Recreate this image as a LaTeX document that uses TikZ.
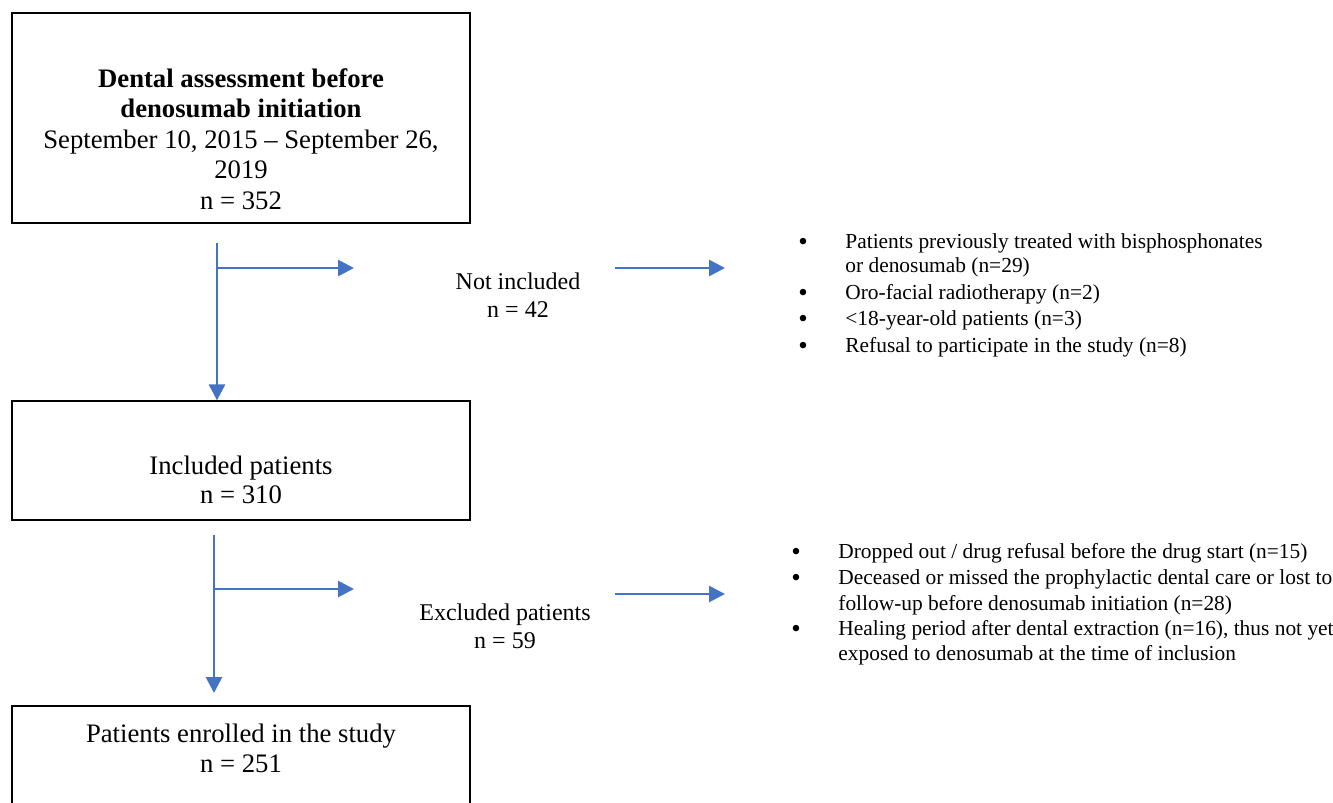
\documentclass[tikz,border=0pt]{standalone}
\usepackage{fontspec}
\setmainfont{Liberation Serif}
\usetikzlibrary{arrows.meta}
\definecolor{flowblue}{HTML}{4472C4}
\tikzset{
  box/.style={draw=black, line width=0.6pt, inner sep=0pt},
  boxtxt/.style={align=center, font=\fontsize{13.35}{14.75}\selectfont, inner sep=0pt},
  midtxt/.style={align=center, font=\fontsize{12}{14}\selectfont, inner sep=0pt},
  flow/.style={draw=flowblue, line width=1.4pt, -{Triangle[length=8pt,width=8pt]}},
  item/.style={anchor=base west, inner sep=0pt, font=\fontsize{10.7}{13}\selectfont},
}
\newcommand{\bul}{\makebox[23.5pt][l]{\raisebox{-1.1pt}{\fontsize{13.5}{13}\selectfont\textbullet}}}
\begin{document}
\begin{tikzpicture}[x=0.5pt,y=-0.5pt]
\useasboundingbox (0,0) rectangle (1333,803);
\clip (0,0) rectangle (1333,803);

% boxes
\node[box, minimum width=229pt, minimum height=105pt] (b1) at (241,118) {};
\node[boxtxt, font=\fontsize{13.35}{15.25}\selectfont] (t1) at (241,139)
  {\textbf{Dental assessment before}\\ \textbf{denosumab initiation}\\
   September 10, 2015 – September 26,\\ 2019\\ n = 352};

\node[box, minimum width=229pt, minimum height=59.5pt] (b2) at (241,460.5) {};
\node[boxtxt] (t2) at (241,480) {Included patients\\ n = 310};

\node[box, minimum width=229pt, minimum height=97pt] (b3) at (241,803) {};
\node[boxtxt, font=\fontsize{13.35}{15}\selectfont] (t3) at (241,748) {Patients enrolled in the study\\ n = 251};

% middle labels
\node[midtxt] (ni) at (518,295) {Not included\\ n = 42};
\node[midtxt] (ex) at (505,626) {Excluded patients\\ n = 59};

% first list
\node[item] (l1a) at (798,248) {\bul Patients previously treated with bisphosphonates};
\node[item] (l1b) at (845,272) {or denosumab (n=29)};
\node[item] (l1c) at (798,299) {\bul Oro-facial radiotherapy (n=2)};
\node[item] (l1d) at (798,325) {\bul <18-year-old patients (n=3)};
\node[item] (l1e) at (798,352) {\bul Refusal to participate in the study (n=8)};

% second list
\node[item] (l2a) at (791,558) {\bul Dropped out / drug refusal before the drug start (n=15)};
\node[item] (l2b) at (791,584) {\bul Deceased or missed the prophylactic dental care or lost to};
\node[item] (l2c) at (838,610) {follow-up before denosumab initiation (n=28)};
\node[item] (l2d) at (791,635) {\bul Healing period after dental extraction (n=16), thus not yet};
\node[item] (l2e) at (838,660) {exposed to denosumab at the time of inclusion};

% connectors
\coordinate (v1s) at (217,243);
\coordinate (j1) at (217,268);
\coordinate (j1e) at (354,268);
\coordinate (h1s) at (615,268);
\coordinate (h1e) at (725,268);
\draw[flow] (v1s) -- (v1s |- b2.north);
\draw[flow] (j1) -- (j1e);
\draw[flow] (h1s) -- (h1e);

\coordinate (v2s) at (214,535);
\coordinate (v2e) at (214,693);
\coordinate (j2) at (214,589);
\coordinate (j2e) at (354,589);
\coordinate (h2s) at (615,594);
\coordinate (h2e) at (725,594);
\draw[flow] (v2s) -- (v2e);
\draw[flow] (j2) -- (j2e);
\draw[flow] (h2s) -- (h2e);
\end{tikzpicture}
\end{document}
